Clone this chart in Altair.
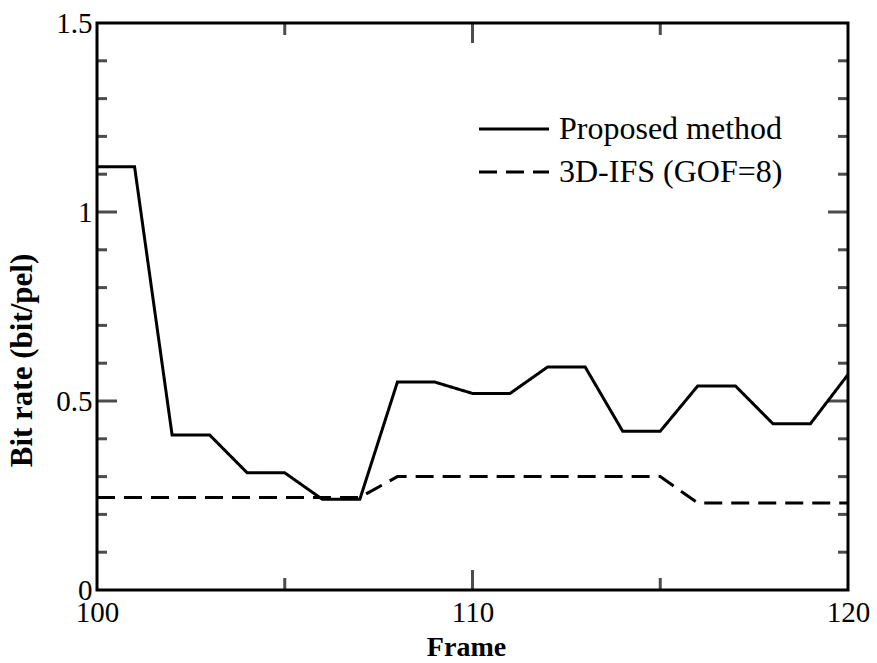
import altair as alt
import pandas as pd

frames = list(range(100, 121))
proposed = [1.12, 1.12, 0.41, 0.41, 0.31, 0.31, 0.24, 0.24, 0.55, 0.55, 0.52,
            0.52, 0.59, 0.59, 0.42, 0.42, 0.54, 0.54, 0.44, 0.44, 0.57]
ifs = [0.245, 0.245, 0.245, 0.245, 0.245, 0.245, 0.245, 0.245, 0.30, 0.30, 0.30,
       0.30, 0.30, 0.30, 0.30, 0.30, 0.23, 0.23, 0.23, 0.23, 0.23]
series_names = ["Proposed method", "3D-IFS (GOF=8)"]

x_domain = [100, 120]
y_domain = [0, 1.5]
x_labels = [100, 110, 120]
y_labels = [0, 0.5, 1, 1.5]
x_minor = [105, 115]
x_major = [110]
y_minor = [0.1, 0.2, 0.3, 0.4, 0.6, 0.7, 0.8, 0.9, 1.1, 1.2, 1.3, 1.4]
y_major = [0.5, 1.0]

FONT = "Liberation Serif"

rows = []
for f, a, b in zip(frames, proposed, ifs):
    rows.append({"frame": f, "rate": a, "series": series_names[0]})
    rows.append({"frame": f, "rate": b, "series": series_names[1]})
df = pd.DataFrame(rows)

xs = alt.Scale(domain=x_domain, nice=False, zero=False)
ys = alt.Scale(domain=y_domain, nice=False)

lines = alt.Chart(df).mark_line(color="black", strokeWidth=3).encode(
    x=alt.X("frame:Q", scale=xs,
            axis=alt.Axis(values=x_labels, ticks=False, domain=False, grid=False,
                          labelFont=FONT, labelFontSize=29, labelPadding=8,
                          labelColor="black", labelFlush=False,
                          title="Frame", titleFont=FONT, titleFontSize=28,
                          titleFontWeight="bold", titleColor="black",
                          titleX=369, titleY=57, titleBaseline="middle")),
    y=alt.Y("rate:Q", scale=ys,
            axis=alt.Axis(values=y_labels, ticks=False, domain=False, grid=False,
                          format=".1~f", labelFont=FONT, labelFontSize=29,
                          labelPadding=5, labelColor="black", labelFlush=False,
                          title="Bit rate (bit/pel)", titleFont=FONT,
                          titleFontSize=31, titleFontWeight="bold",
                          titleColor="black", titleX=-75, titleY=337,
                          titleBaseline="middle", titleAlign="center",
                          titleAngle=-90)),
    strokeDash=alt.StrokeDash(
        "series:N",
        scale=alt.Scale(domain=series_names, range=[[1, 0], [18, 9]]),
        legend=alt.Legend(orient="none", legendX=398, legendY=87, title=None,
                          symbolType="M-2,0H2", symbolSize=1225,
                          symbolStrokeWidth=3, symbolStrokeColor="black",
                          symbolFillColor="transparent",
                          labelFont=FONT, labelFontSize=32, labelOffset=26,
                          labelLimit=0, labelColor="black", rowPadding=8)),
)


def tick_table(vals, edges, key, other):
    return pd.DataFrame([{key: v, other: e} for v in vals for e in edges])


def yticks(vals, size):
    return alt.Chart(tick_table(vals, x_domain, "rate", "frame")).mark_tick(
        orient="horizontal", size=size, thickness=3, color="black", clip=True
    ).encode(x=alt.X("frame:Q", scale=xs), y=alt.Y("rate:Q", scale=ys))


def xticks(vals, size):
    return alt.Chart(tick_table(vals, y_domain, "frame", "rate")).mark_tick(
        orient="vertical", size=size, thickness=3, color="black", clip=True
    ).encode(x=alt.X("frame:Q", scale=xs), y=alt.Y("rate:Q", scale=ys))


chart = alt.layer(
    yticks(y_minor, 20), yticks(y_major, 40),
    xticks(x_minor, 24), xticks(x_major, 40),
    lines,
).properties(
    width=751, height=567,
    autosize=alt.AutoSizeParams(type="none"),
    padding={"left": 97, "top": 23, "right": 29, "bottom": 73},
    background="white",
).configure_view(stroke="black", strokeWidth=3, fill="white")

chart.save("out.html", embed_options={"renderer": "svg", "actions": False})
